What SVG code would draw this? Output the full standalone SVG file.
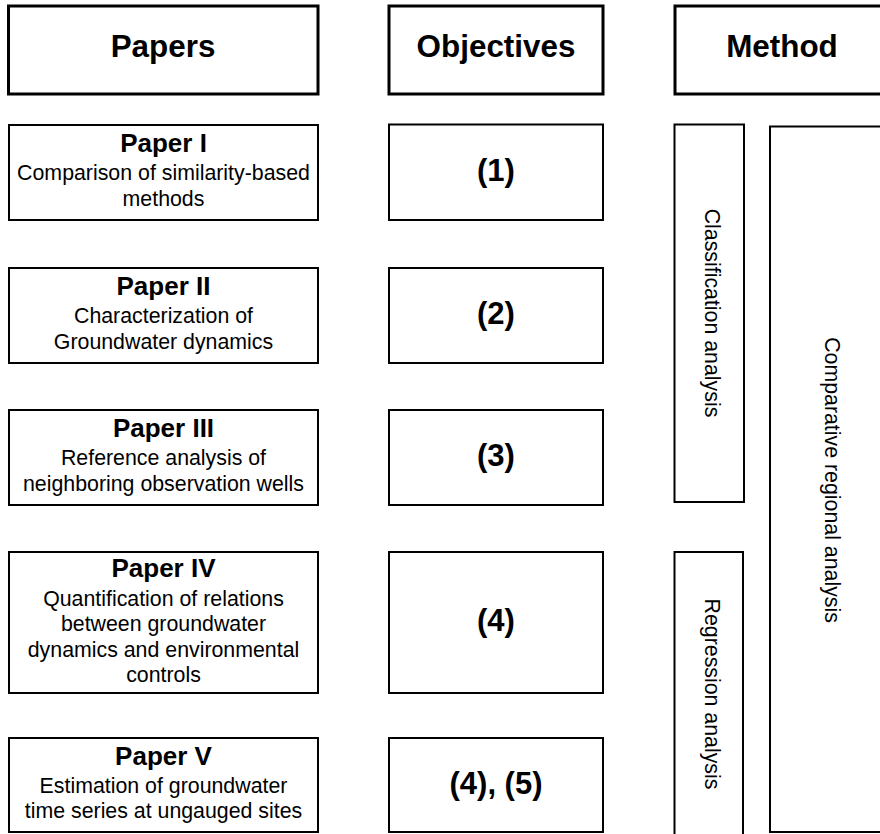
<svg xmlns="http://www.w3.org/2000/svg" width="880" height="834" viewBox="0 0 880 834">
<style>
.hdr{fill:#fff;stroke:#000;stroke-width:3}
.box{fill:#fff;stroke:#000;stroke-width:2}
text{font-family:"Liberation Sans",Arial,Helvetica,sans-serif;fill:#000;text-anchor:middle}
.ht{font-size:31.4px;font-weight:bold}
.tt{font-size:26px;font-weight:bold}
.bt{font-size:21.33px}
.ot{font-size:31px;font-weight:bold}
.vt{font-size:21.33px;dominant-baseline:central}
</style>
<rect width="880" height="834" fill="#fff"/>
<g id="hdr-papers"><rect class="hdr" x="8.5" y="6" width="309.5" height="88"/><text class="ht" x="163" y="57">Papers</text></g>
<g id="hdr-objectives"><rect class="hdr" x="389" y="6" width="214" height="88"/><text class="ht" x="496" y="57">Objectives</text></g>
<g id="hdr-method"><rect class="hdr" x="675" y="6" width="214" height="88"/><text class="ht" x="782" y="57">Method</text></g>

<g id="paper1"><rect class="box" x="9" y="125" width="309" height="95"/>
<text class="tt" x="163.5" y="152">Paper I</text>
<text class="bt" x="163.5" y="180">Comparison of similarity-based</text>
<text class="bt" x="163.5" y="205.6">methods</text></g>
<g id="paper2"><rect class="box" x="9" y="268" width="309" height="95"/>
<text class="tt" x="163.5" y="295">Paper II</text>
<text class="bt" x="163.5" y="323">Characterization of</text>
<text class="bt" x="163.5" y="348.6">Groundwater dynamics</text></g>
<g id="paper3"><rect class="box" x="9" y="410" width="309" height="95"/>
<text class="tt" x="163.5" y="437">Paper III</text>
<text class="bt" x="163.5" y="465">Reference analysis of</text>
<text class="bt" x="163.5" y="490.6">neighboring observation wells</text></g>
<g id="paper4"><rect class="box" x="9" y="552" width="309" height="141"/>
<text class="tt" x="163.5" y="577">Paper IV</text>
<text class="bt" x="163.5" y="605.6">Quantification of relations</text>
<text class="bt" x="163.5" y="631.2">between groundwater</text>
<text class="bt" x="163.5" y="656.8">dynamics and environmental</text>
<text class="bt" x="163.5" y="682.4">controls</text></g>
<g id="paper5"><rect class="box" x="9" y="738" width="309" height="94"/>
<text class="tt" x="163.5" y="765">Paper V</text>
<text class="bt" x="163.5" y="793">Estimation of groundwater</text>
<text class="bt" x="163.5" y="818.4">time series at ungauged sites</text></g>

<g id="obj1"><rect class="box" x="389" y="124.5" width="214" height="95.5"/><text class="ot" x="496" y="181">(1)</text></g>
<g id="obj2"><rect class="box" x="389" y="268" width="214" height="95"/><text class="ot" x="496" y="324">(2)</text></g>
<g id="obj3"><rect class="box" x="389" y="410" width="214" height="95"/><text class="ot" x="496" y="466">(3)</text></g>
<g id="obj4"><rect class="box" x="389" y="552" width="214" height="141"/><text class="ot" x="496" y="631">(4)</text></g>
<g id="obj5"><rect class="box" x="389" y="738" width="214" height="94"/><text class="ot" x="496" y="793.5">(4), (5)</text></g>

<g id="classification"><rect class="box" x="674.5" y="124.5" width="69.5" height="377.5"/>
<text class="vt" transform="translate(711.5,313) rotate(90)" x="0" y="0">Classification analysis</text></g>
<g id="regression"><rect class="box" x="674.5" y="552" width="68.5" height="284"/>
<text class="vt" transform="translate(711.5,694) rotate(90)" x="0" y="0">Regression analysis</text></g>
<g id="comparative"><rect class="box" x="770" y="126.5" width="124" height="705.5"/>
<text class="vt" transform="translate(831.5,480) rotate(90)" x="0" y="0">Comparative regional analysis</text></g>
<g id="connectors"></g>
</svg>
